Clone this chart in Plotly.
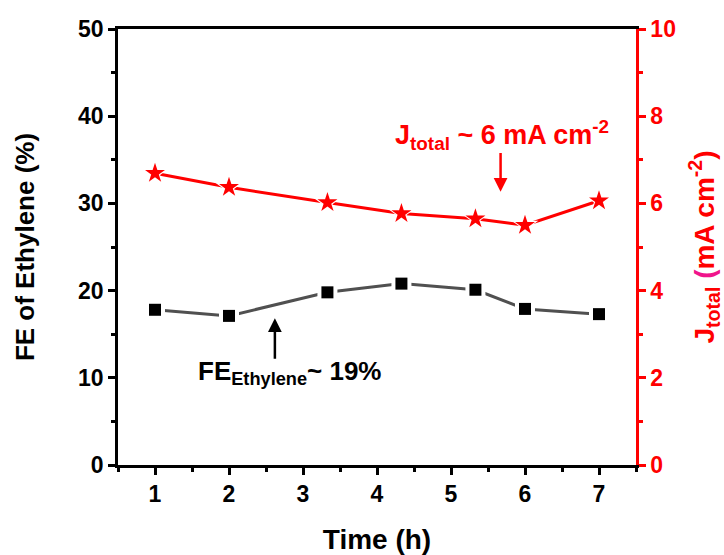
import plotly.graph_objects as go

# ---- data ----
time_h = [1, 2, 3.33, 4.33, 5.33, 6, 7]
fe_ethylene = [17.8, 17.1, 19.8, 20.8, 20.1, 17.9, 17.3]
j_total = [6.69, 6.37, 6.02, 5.77, 5.65, 5.50, 6.06]

x_ticks = [1, 2, 3, 4, 5, 6, 7]
y_ticks = [0, 10, 20, 30, 40, 50]
y2_ticks = [0, 2, 4, 6, 8, 10]

FONT = "Arial, 'Liberation Sans', sans-serif"
RED = "#FF0000"
GREY = "#505050"

fig = go.Figure()

# FE ethylene: line, white halo, black squares
fig.add_trace(go.Scatter(x=time_h, y=fe_ethylene, mode="lines",
                         line=dict(color=GREY, width=3), hoverinfo="skip", showlegend=False))
fig.add_trace(go.Scatter(x=time_h, y=fe_ethylene, mode="markers",
                         marker=dict(symbol="square", size=20, color="white"), showlegend=False))
fig.add_trace(go.Scatter(x=time_h, y=fe_ethylene, mode="markers",
                         marker=dict(symbol="square", size=12, color="black"), showlegend=False))

# J total: line, white halo, red stars (right axis)
fig.add_trace(go.Scatter(x=time_h, y=j_total, mode="lines", yaxis="y2",
                         line=dict(color=RED, width=3), showlegend=False))
fig.add_trace(go.Scatter(x=time_h, y=j_total, mode="markers", yaxis="y2",
                         marker=dict(symbol="star", size=20, color="white"), showlegend=False))
fig.add_trace(go.Scatter(x=time_h, y=j_total, mode="markers", yaxis="y2",
                         marker=dict(symbol="star", size=15, color=RED), showlegend=False))

axis_common = dict(showgrid=False, zeroline=False, ticks="outside", ticklen=7, tickwidth=2.5,
                   linewidth=2.5, showline=True, automargin=False)

fig.update_layout(
    width=724, height=555,
    margin=dict(l=118, r=88, t=29, b=90),
    paper_bgcolor="white", plot_bgcolor="white",
    font=dict(family=FONT),
    xaxis=dict(**axis_common, range=[0.5, 7.5], tickvals=x_ticks, linecolor="black",
               tickcolor="black", mirror=True,
               minor=dict(dtick=0.5, ticks="outside", ticklen=4, tickwidth=2.5, tickcolor="black"),
               tickfont=dict(size=23, color="black", weight="bold"),
               title=dict(text="Time (h)", font=dict(size=28, color="black", weight="bold"),
                          standoff=24)),
    yaxis=dict(**axis_common, range=[0, 50], tickvals=y_ticks, linecolor="black",
               tickcolor="black",
               minor=dict(dtick=5, ticks="outside", ticklen=4, tickwidth=2.5, tickcolor="black"),
               tickfont=dict(size=23, color="black", weight="bold"),
               title=dict(text="FE of Ethylene (%)", font=dict(size=26, color="black", weight="bold"),
                          standoff=36)),
    yaxis2=dict(**axis_common, range=[0, 10], tickvals=y2_ticks, overlaying="y", side="right",
                linecolor=RED, tickcolor=RED,
                minor=dict(dtick=1, ticks="outside", ticklen=4, tickwidth=2.5, tickcolor=RED),
                tickfont=dict(size=23, color=RED, weight="bold"),
                title=dict(text="J<sub>total</sub> <span style='color:#F0148C'>(</span>mA cm<sup>-2</sup>)",
                           font=dict(size=28, color=RED, weight="bold"), standoff=20)),
)

# annotations
fig.add_annotation(x=5.69, y=7.57, xref="x", yref="y2",
                   text="J<sub>total</sub> ~ 6 mA cm<sup>-2</sup>", showarrow=False,
                   font=dict(size=27, color=RED, weight="bold"), xanchor="center", yanchor="middle")
fig.add_annotation(x=5.67, y=6.27, xref="x", yref="y2", ax=5.67, ay=7.19, axref="x", ayref="y2",
                   text="", showarrow=True, arrowhead=2, arrowsize=1.1, arrowwidth=2.5,
                   arrowcolor=RED)
fig.add_annotation(x=2.82, y=10.6, xref="x", yref="y",
                   text="FE<sub>Ethylene</sub>~ 19%", showarrow=False,
                   font=dict(size=26, color="black", weight="bold"), xanchor="center", yanchor="middle")
fig.add_annotation(x=2.62, y=16.83, xref="x", yref="y", ax=2.62, ay=12.0, axref="x", ayref="y",
                   text="", showarrow=True, arrowhead=2, arrowsize=1.1, arrowwidth=2.5,
                   arrowcolor="black")

fig.write_html("out.html")
